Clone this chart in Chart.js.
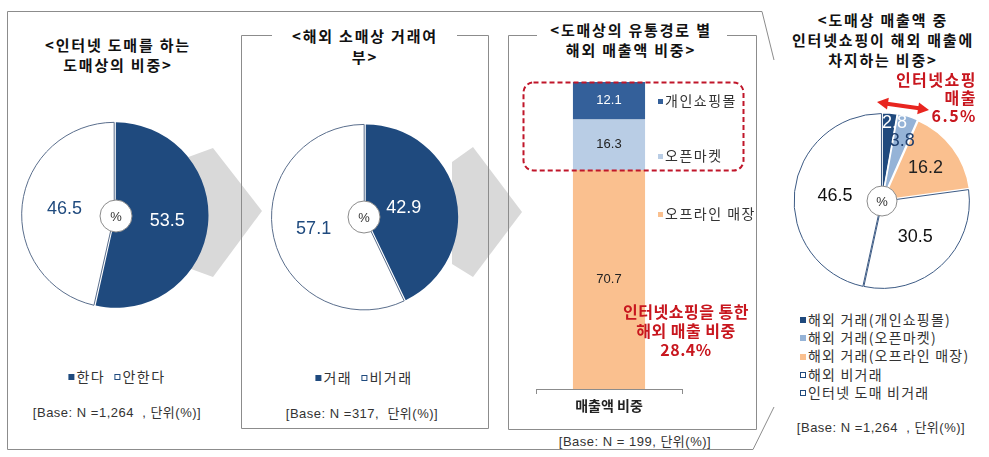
<!DOCTYPE html>
<html><head><meta charset="utf-8">
<script src="https://cdn.jsdelivr.net/npm/chart.js@4.4.1/dist/chart.umd.min.js"></script>
<style>
html,body{margin:0;padding:0;background:#fff;}
#root{position:relative;width:989px;height:457px;overflow:hidden;font-family:"Noto Sans CJK KR","Liberation Sans",sans-serif;color:#222;}
svg{position:absolute;left:0;top:0;}
canvas{position:absolute;}
.title{position:absolute;width:300px;text-align:center;font-size:15px;line-height:20px;color:#111;white-space:nowrap;font-weight:bold;letter-spacing:1.8px;}
.ctr{position:absolute;white-space:nowrap;transform:translate(-50%,-50%);line-height:1;}
.legend{font-size:14px;color:#333;letter-spacing:1.5px;}
.base{font-family:"Liberation Sans","Noto Sans CJK KR",sans-serif;font-size:13px;color:#333;letter-spacing:0.5px;}
.mk{display:inline-block;width:6px;height:6px;margin-right:2px;vertical-align:middle;position:relative;top:-1px;box-sizing:border-box;}
.red{color:#c8161e;font-weight:bold;font-size:16px;line-height:19px;text-align:center;letter-spacing:0.5px;}
</style></head>
<body><div id="root">
<svg width="989" height="457">
  <g fill="#d9d9d9">
    <polygon points="172,163 213,148 262,211 213,277 172,262"/>
    <polygon points="452,162 473,147 522,212 473,277 452,264"/>
  </g>
  <g stroke="#8c8c8c" stroke-width="1" fill="none">
    <polyline points="774,60 762,11.5 7.5,11.5 7.5,449.5 753,449.5 774,407"/>
    <polyline points="272,35.5 241.5,35.5 241.5,428.5 488.5,428.5 488.5,35.5 457,35.5"/>
    <polyline points="537,35.5 508.5,35.5 508.5,429.5 756.5,429.5 756.5,35.5 727,35.5"/>
  </g>
</svg>

<canvas id="pie1" width="210" height="210" style="left:10px;top:110px"></canvas>
<canvas id="pie2" width="210" height="210" style="left:260px;top:112px"></canvas>
<canvas id="bar3" width="186" height="357" style="left:516px;top:72px"></canvas>
<canvas id="pie4" width="200" height="200" style="left:782px;top:101px"></canvas>

<div id="texts"></div>

<svg width="989" height="457" style="pointer-events:none">
  <rect x="523.5" y="82.5" width="220" height="88" rx="10" ry="10" fill="none" stroke="#c0162a" stroke-width="2" stroke-dasharray="5 3"/>
  <g fill="#e8251f" stroke="none">
    <line x1="887" y1="103.7" x2="919" y2="108.3" stroke="#e8251f" stroke-width="4"/>
    <polygon points="877,102 887.0,109.6 888.8,97.8"/>
    <polygon points="929,110 917.2,114.2 919.0,102.4"/>
  </g>
</svg>
</div>

<script>
// ---------- data ----------
const pie1Labels = ['한다', '안한다'];
const pie1Values = [53.5, 46.5];

const pie2Labels = ['거래', '비거래'];
const pie2Values = [42.9, 57.1];

const barCategories = ['매출액 비중'];
const barSeries = ['개인쇼핑몰', '오픈마켓', '오프라인 매장'];
const barValues = [12.1, 16.3, 70.7];

const pie4Labels = ['해외 거래(개인쇼핑몰)', '해외 거래(오픈마켓)', '해외 거래(오프라인 매장)', '해외 비거래', '인터넷 도매 비거래'];
const pie4Values = [2.8, 3.8, 16.2, 30.5, 46.5];

const titles = [
  ['<인터넷 도매를 하는', '도매상의 비중>'],
  ['<해외 소매상 거래여', '부>'],
  ['<도매상의 유통경로 별', '해외 매출액 비중>'],
  ['<도매상 매출액 중', '인터넷쇼핑이 해외 매출에', '차지하는 비중>']
];
const baseNotes = ['[Base: N =1,264  , 단위(%)]', '[Base: N =317,  단위(%)]', '[Base: N = 199, 단위(%)]', '[Base: N =1,264  , 단위(%)]'];
const barNote = ['인터넷쇼핑을 통한', '해외 매출 비중', '28.4%'];
const pieNote = ['인터넷쇼핑', '매출', '6.5%'];

// ---------- styles ----------
const NAVY = '#1f4a7e';
const NAVY4 = '#1f497d';
const LBLUE = '#95b3d7';
const ORANGE = '#fac08f';
const BAR_COLORS = ['#34609a', '#b9cde5', '#fac08f'];
const EDGE = '#5a6e8c';

// ---------- plugins ----------
const pieDecor = {
  id: 'pieDecor',
  afterDatasetsDraw(chart, args, o) {
    const ctx = chart.ctx;
    const meta = chart.getDatasetMeta(0);
    const ds = chart.data.datasets[0];
    meta.data.forEach((arc, i) => {
      const p = arc.getProps(['x', 'y', 'startAngle', 'endAngle', 'outerRadius']);
      const mid = (p.startAngle + p.endAngle) / 2 + (o.nudge ? o.nudge[i] : 0);
      const off = Array.isArray(ds.offset) ? ds.offset[i] : (ds.offset || 0);
      const r = p.outerRadius * o.factors[i] + off;
      ctx.save();
      ctx.font = o.font;
      ctx.fillStyle = o.colors[i];
      ctx.textAlign = 'center';
      ctx.textBaseline = 'middle';
      ctx.fillText(String(ds.data[i]), p.x + Math.cos(mid) * r, p.y + Math.sin(mid) * r);
      ctx.restore();
    });
    const a0 = meta.data[0];
    ctx.save();
    ctx.beginPath();
    ctx.arc(a0.x + o.cdx, a0.y + o.cdy, o.cr, 0, Math.PI * 2);
    ctx.fillStyle = '#fff';
    ctx.fill();
    ctx.lineWidth = 1;
    ctx.strokeStyle = '#8c8c8c';
    ctx.stroke();
    ctx.fillStyle = '#333';
    ctx.font = '13px "Liberation Sans", sans-serif';
    ctx.textAlign = 'center';
    ctx.textBaseline = 'middle';
    ctx.fillText('%', a0.x + o.cdx, a0.y + o.cdy + 1);
    ctx.restore();
  }
};

const barDecor = {
  id: 'barDecor',
  afterDatasetsDraw(chart, args, o) {
    const ctx = chart.ctx;
    chart.data.datasets.forEach((ds, di) => {
      const meta = chart.getDatasetMeta(di);
      meta.data.forEach((bar, i) => {
        const p = bar.getProps(['x', 'y', 'base']);
        ctx.save();
        ctx.font = '13px "Liberation Sans", sans-serif';
        ctx.fillStyle = o.colors[di];
        ctx.textAlign = 'center';
        ctx.textBaseline = 'middle';
        ctx.fillText(String(ds.data[i]), p.x, (p.y + p.base) / 2);
        ctx.restore();
      });
    });
  }
};

function makePie(id, labels, values, cfg) {
  return new Chart(document.getElementById(id), {
    type: 'pie',
    data: {
      labels: labels,
      datasets: [{
        data: values,
        backgroundColor: cfg.colors,
        borderColor: cfg.borders,
        borderWidth: cfg.bw,
        offset: cfg.offsets
      }]
    },
    options: {
      responsive: false,
      animation: false,
      events: [],
      radius: cfg.radius,
      layout: { padding: 0 },
      plugins: {
        legend: { display: false },
        tooltip: { enabled: false },
        pieDecor: cfg.decor
      }
    },
    plugins: [pieDecor]
  });
}

makePie('pie1', pie1Labels, pie1Values, {
  colors: [NAVY, '#ffffff'], borders: ['#ffffff', EDGE], bw: [0, 1], offsets: [3, 3], radius: 92,
  decor: { factors: [0.54, 0.52], colors: ['#ffffff', NAVY], font: '18px "Liberation Sans", sans-serif', cr: 16, cdx: 1, cdy: 1 }
});

makePie('pie2', pie2Labels, pie2Values, {
  colors: [NAVY, '#ffffff'], borders: ['#ffffff', EDGE], bw: [0, 1], offsets: [3, 3], radius: 92,
  decor: { factors: [0.4, 0.54], colors: ['#ffffff', NAVY], font: '18px "Liberation Sans", sans-serif', cr: 16, cdx: -1, cdy: 0 }
});

makePie('pie4', pie4Labels, pie4Values, {
  colors: [NAVY4, LBLUE, ORANGE, '#ffffff', '#ffffff'],
  borders: ['#ffffff', '#ffffff', '#ffffff', '#3c5a84', '#3c5a84'], bw: [1.5, 1.5, 1.5, 1, 1],
  offsets: [3, 4, 5, 2, 2], radius: 87,
  decor: { factors: [0.87, 0.68, 0.57, 0.54, 0.52], nudge: [0.07, 0.03, 0, 0, 0], colors: ['#ffffff', '#1f3f6e', '#222222', '#111111', '#111111'], font: '18px "Liberation Sans", sans-serif', cr: 15, cdx: 0, cdy: 0 }
});

// stacked bar: first dataset sits at bottom, so build in reverse order
const barTotal = barValues.reduce((a, b) => a + b, 0);
const barDatasets = barSeries.map((name, i) => ({
  label: name,
  data: [barValues[i]],
  backgroundColor: BAR_COLORS[i],
  borderWidth: 0,
  barPercentage: 0.494,
  categoryPercentage: 1
})).reverse();
const barLabelColors = ['#ffffff', '#222222', '#222222'].reverse();

new Chart(document.getElementById('bar3'), {
  type: 'bar',
  data: { labels: barCategories, datasets: barDatasets },
  options: {
    responsive: false,
    animation: false,
    events: [],
    layout: { padding: { top: 10, left: 20, right: 20, bottom: 0 } },
    scales: {
      x: {
        stacked: true,
        grid: { drawOnChartArea: false, tickLength: 5, color: '#8c8c8c', offset: true },
        border: { display: true, color: '#8c8c8c' },
        ticks: { color: '#222', padding: 3, font: { family: '"Noto Sans CJK KR", sans-serif', size: 14, weight: 'bold' } },
        afterFit(scale) { scale.height = 40; }
      },
      y: { stacked: true, display: false, min: 0, max: barTotal }
    },
    plugins: {
      legend: { display: false },
      tooltip: { enabled: false },
      barDecor: { colors: barLabelColors }
    }
  },
  plugins: [barDecor]
});

// ---------- texts ----------
const T = document.getElementById('texts');
function add(html, cls, style) {
  const d = document.createElement('div');
  d.className = cls;
  d.setAttribute('style', style);
  d.innerHTML = html;
  T.appendChild(d);
  return d;
}
function esc(s) { return s.replace(/&/g, '&amp;').replace(/</g, '&lt;').replace(/>/g, '&gt;'); }

const titlePos = [[118, 35, 20], [365, 25, 21], [631, 20, 20], [883, 10, 20]];
titles.forEach((lines, i) => {
  const [cx, top, lh] = titlePos[i];
  add(lines.map(esc).join('<br>'), 'title', `left:${cx - 150}px;top:${top}px;line-height:${lh}px;`);
});

function mk(color, hollow) {
  return hollow
    ? `<span class="mk" style="border:1px solid ${NAVY};background:#fff"></span>`
    : `<span class="mk" style="background:${color}"></span>`;
}

// pie legends
add(mk(NAVY) + pie1Labels[0] + '&nbsp;&nbsp;' + mk('#fff', true) + pie1Labels[1], 'ctr legend', 'left:117px;top:376px');
add(mk(NAVY) + pie2Labels[0] + '&nbsp;&nbsp;' + mk('#fff', true) + pie2Labels[1], 'ctr legend', 'left:364px;top:377px');

// base notes
const basePos = [[117, 412], [362, 413], [635, 441], [881, 427]];
baseNotes.forEach((s, i) => add(esc(s).replace(/  /g, ' &nbsp;'), 'ctr base', `left:${basePos[i][0]}px;top:${basePos[i][1]}px`));

// bar legend
const barLegY = [100, 155, 213];
barSeries.forEach((s, i) => {
  add(`<span class="mk" style="background:${BAR_COLORS[i]};width:5px;height:5px"></span>` + esc(s), 'legend',
      `position:absolute;left:658px;top:${barLegY[i] - 10}px;line-height:20px;white-space:nowrap`);
});

// pie4 legend
pie4Labels.forEach((s, i) => {
  const m = i < 3 ? mk([NAVY4, LBLUE, ORANGE][i]) : mk('#fff', true);
  add(m + esc(s), 'legend', `position:absolute;left:800px;top:${310 + i * 18.2}px;line-height:18px;white-space:nowrap;letter-spacing:1.2px`);
});

// red notes
add(barNote.map(esc).join('<br>'), 'red', 'position:absolute;left:596px;width:180px;top:302px;');
add(pieNote.map(esc).join('<br>'), 'red', 'position:absolute;left:867px;width:110px;top:70px;text-align:right;line-height:18px;letter-spacing:1.5px;');
</script>
</body></html>
